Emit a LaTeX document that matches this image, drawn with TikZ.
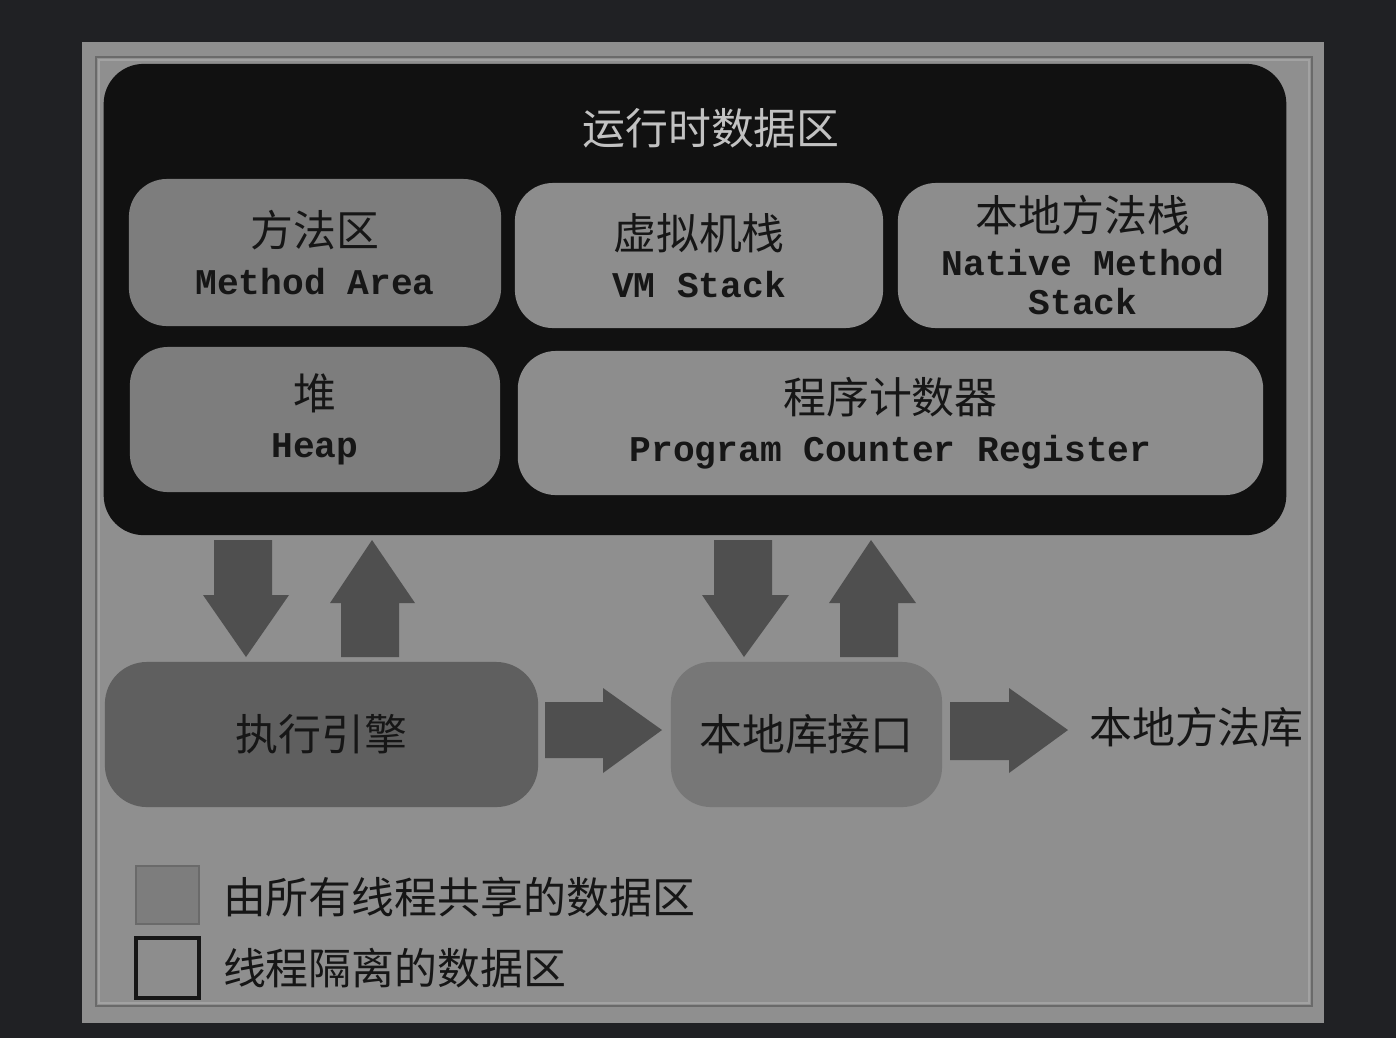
\documentclass[tikz,border=0pt]{standalone}
\usepackage{fontspec}
\newfontfamily\cjk{Noto Sans CJK SC}
\newfontfamily\mono{Liberation Mono}
\definecolor{bgdark}{HTML}{202124}
\definecolor{panel}{HTML}{8F8F8F}
\definecolor{shared}{HTML}{7D7D7D}
\definecolor{private}{HTML}{8D8D8D}
\definecolor{engine}{HTML}{5F5F5F}
\definecolor{iface}{HTML}{777777}
\definecolor{arrowc}{HTML}{4F4F4F}
\definecolor{blackbox}{HTML}{111111}
\definecolor{txt}{HTML}{161616}
\definecolor{titletxt}{HTML}{C2C2C2}
\definecolor{borderdark}{HTML}{6A6A6A}
\definecolor{borderlight}{HTML}{A2A2A2}
\newcommand{\cj}[1]{{\cjk\mdseries\fontsize{12.2}{13.6}\selectfont #1}}
\begin{document}
\begin{tikzpicture}[x=0.01cm,y=-0.01cm,
  box/.style={rounded corners=0.38cm, inner sep=0pt, outer sep=0pt, text=txt, align=center,
    font=\mono\bfseries\fontsize{10.3}{13.6}\selectfont},
  sharedbox/.style={box, fill=shared},
  privatebox/.style={box, fill=private},
  blockarrow/.style={fill=arrowc, draw=none},
  cjktext/.style={inner sep=0pt, outer sep=0pt, text=txt, font=\cjk\fontsize{12.2}{13.6}\selectfont},
  legendtext/.style={inner sep=0pt, outer sep=0pt, text=txt, anchor=west, font=\cjk\fontsize{12.2}{14}\selectfont}
]
\useasboundingbox (0,0) rectangle (1396,1038);
\fill[bgdark] (0,0) rectangle (1396,1038);
\fill[panel] (82,42) rectangle (1324,1023);
\draw[borderdark, line width=0.7pt] (96,57) rectangle (1312,1006);
\draw[borderlight, line width=0.5pt] (99,60) rectangle (1309,1003);

% runtime data area
\node[fill=blackbox, rounded corners=0.4cm, inner sep=0pt, minimum width=11.82cm, minimum height=4.71cm] (rt) at (695,299.5) {};
\node[inner sep=0pt, text=titletxt, font=\cjk\fontsize{12.2}{13.6}\selectfont] (rttitle) at (711,128) {运行时数据区};

\node[sharedbox, minimum width=3.72cm, minimum height=1.47cm] (method) at (315,252.5) {\cj{方法区}\\Method Area};
\node[privatebox, minimum width=3.68cm, minimum height=1.45cm] (vm) at (699,255.5) {\cj{虚拟机栈}\\VM Stack};
\node[privatebox, minimum width=3.70cm, minimum height=1.45cm] (native) at (1083,255.5) {\cj{本地方法栈}\\[-1.1pt]Native Method\\[-2.5pt]Stack};
\node[sharedbox, minimum width=3.70cm, minimum height=1.45cm] (heap) at (315,419.5) {\cj{堆}\\Heap};
\node[privatebox, minimum width=7.45cm, minimum height=1.44cm] (pc) at (890.5,423) {\cj{程序计数器}\\Program Counter Register};

% lower boxes
\node[box, fill=engine, rounded corners=0.42cm, minimum width=4.33cm, minimum height=1.45cm] (exec) at (321.5,734.5) {\cj{执行引擎}};
\node[box, fill=iface, rounded corners=0.4cm, minimum width=2.71cm, minimum height=1.45cm] (jni) at (806.5,734.5) {\cj{本地库接口}};
\node[cjktext] (nlib) at (1196.5,727) {本地方法库};

% block arrows
\fill[blockarrow] (214,540) -- (272,540) -- (272,595) -- (289,595) -- (246,657) -- (203,595) -- (214,595) -- cycle;
\fill[blockarrow] (372,540) -- (415,603) -- (399,603) -- (399,657) -- (341,657) -- (341,603) -- (330,603) -- cycle;
\fill[blockarrow] (714,540) -- (772,540) -- (772,595) -- (789,595) -- (744,657) -- (702,595) -- (714,595) -- cycle;
\fill[blockarrow] (871,540) -- (916,603) -- (898,603) -- (898,657) -- (840,657) -- (840,603) -- (829,603) -- cycle;
\fill[blockarrow] (545,702) -- (603,702) -- (603,688) -- (662,730) -- (603,773) -- (603,758) -- (545,758) -- cycle;
\fill[blockarrow] (950,702) -- (1009,702) -- (1009,688) -- (1068,730) -- (1009,773) -- (1009,760) -- (950,760) -- cycle;

% legend
\node[fill=shared, draw=borderdark, line width=0.6pt, inner sep=0pt, minimum width=0.63cm, minimum height=0.58cm] (lg1) at (167.5,895) {};
\node[fill=private, draw=txt, line width=0.9pt, inner sep=0pt, minimum width=0.63cm, minimum height=0.60cm] (lg2) at (167.5,968) {};
\node[legendtext] (lt1) at (223,897) {由所有线程共享的数据区};
\node[legendtext] (lt2) at (223,968) {线程隔离的数据区};
\end{tikzpicture}
\end{document}
